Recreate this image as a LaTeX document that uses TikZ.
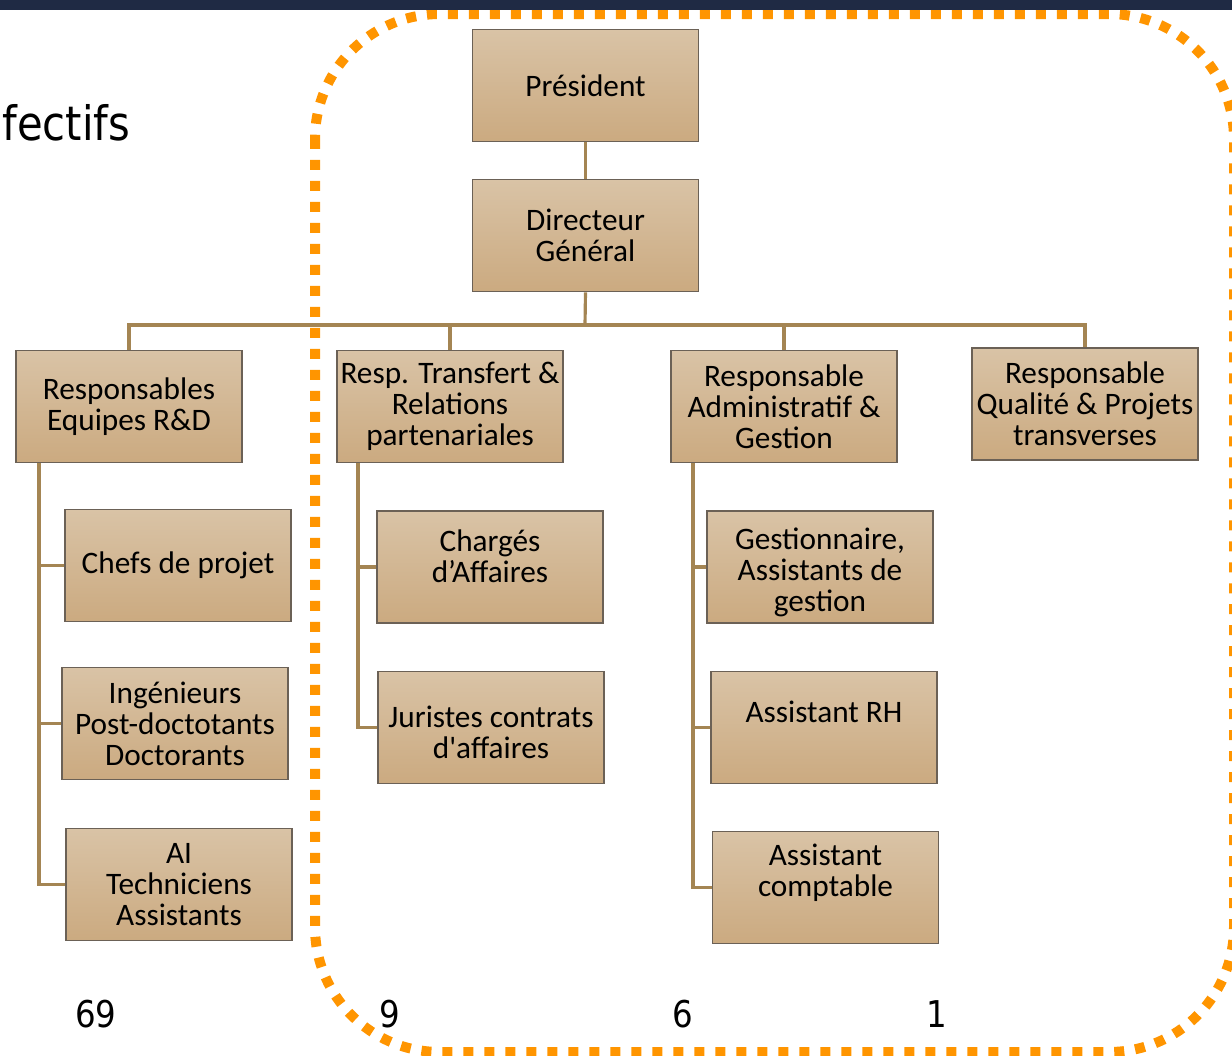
\documentclass[tikz,border=0pt]{standalone}
\usepackage{fontspec}
\setmainfont{Carlito}
\newfontfamily\numfont[FakeStretch=0.88]{DejaVu Sans}
\usetikzlibrary{positioning}

\definecolor{boxtop}{HTML}{D9C3A6}
\definecolor{boxbot}{HTML}{CBAA80}
\definecolor{boxline}{HTML}{6B6156}
\definecolor{linkcol}{HTML}{A48553}
\definecolor{orgdash}{HTML}{FF9500}
\definecolor{topbar}{HTML}{1F2A44}

\newcommand{\boxfont}{\fontsize{17.8}{17.6}\selectfont\lineskiplimit=-20pt\relax}
\newcommand{\lift}[2]{\raisebox{#1}[\height][\depth]{#2}}

\begin{document}
\begin{tikzpicture}[x=0.02cm, y=-0.02cm, node distance=3cm,
    box/.style = {draw=boxline, line width=1.1pt, top color=boxtop, bottom color=boxbot,
      minimum width=4.52cm, minimum height=2.24cm, inner sep=1pt, align=center,
      font=\boxfont},
    link/.style = {draw=linkcol, line width=1.8pt},
    count/.style = {font=\numfont\fontsize{21}{24}\selectfont, anchor=base}]
  \useasboundingbox (0,0) rectangle (1232,1056);

  \node[font=\numfont\fontsize{27}{30}\selectfont, anchor=base west, inner sep=0pt] (title) at (2,140) {fectifs};

  % top of the chart
  \node[box] (pres) at (585.5,85.5) {Président};
  \node[box] (dg) [below of=pres] {Directeur\\Général};

  % managers
  \node[box] (rd) at (129,406.5) {Responsables\\Equipes R\&D};
  \node[box] (tr) at (450,406.5) {Resp. Transfert \&\\Relations\\partenariales};
  \node[box] (adm) at (784,406.5) {Responsable\\Administratif \&\\Gestion};
  \node[box] (qual) at (1085,404) {Responsable\\Qualité \& Projets\\transverses};

  % teams
  \node[box] (chef) at (178,565.5) {Chefs de projet};
  \node[box] (ing) at (175,723.5) {Ingénieurs\\Post-doctotants\\Doctorants};
  \node[box] (ai) at (179,884.5) {AI\\Techniciens\\Assistants};
  \node[box] (charg) at (490,567) {\lift{0.22cm}{Chargés}\\\lift{0.22cm}{d’Affaires}};
  \node[box] (jur) at (491,727.5) {\lift{-0.1cm}{Juristes contrats}\\\lift{-0.1cm}{d\textquotesingle affaires}};
  \node[box] (gest) at (820,567) {\lift{-0.1cm}{Gestionnaire,}\\\lift{-0.1cm}{Assistants de}\\\lift{-0.1cm}{gestion}};
  \node[box] (rh) at (824,727.5) {\lift{0.32cm}{Assistant RH}};
  \node[box] (compt) at (825.5,887.5) {\lift{0.3cm}{Assistant}\\\lift{0.3cm}{comptable}};

  \coordinate (bus) at (585,325);
  \draw[link] (pres) -- (dg);
  \draw[link] (dg.south) -- (bus);
  \foreach \m in {rd,tr,adm,qual}
    \draw[link] (bus) -| (\m.north);

  \foreach \c in {chef,ing,ai}
    \draw[link] ([xshift=0.48cm]rd.south west) |- (\c.west);
  \foreach \c in {charg,jur}
    \draw[link] ([xshift=0.44cm]tr.south west) |- (\c.west);
  \foreach \c in {gest,rh,compt}
    \draw[link] ([xshift=0.46cm]adm.south west) |- (\c.west);

  \draw[orgdash, line width=0.2cm, dash pattern=on 0.2cm off 0.22cm, rounded corners=2.5cm]
    (315,14) rectangle (1234,1052);

  \node[count] (n_rd) at (96,1027) {69};
  \node[count] (n_tr) at (390,1027) {9};
  \node[count] (n_adm) at (683,1027) {6};
  \node[count] (n_qual) at (937,1027) {1};

  \fill[topbar] (0,0) rectangle (1232,10);
\end{tikzpicture}
\end{document}
